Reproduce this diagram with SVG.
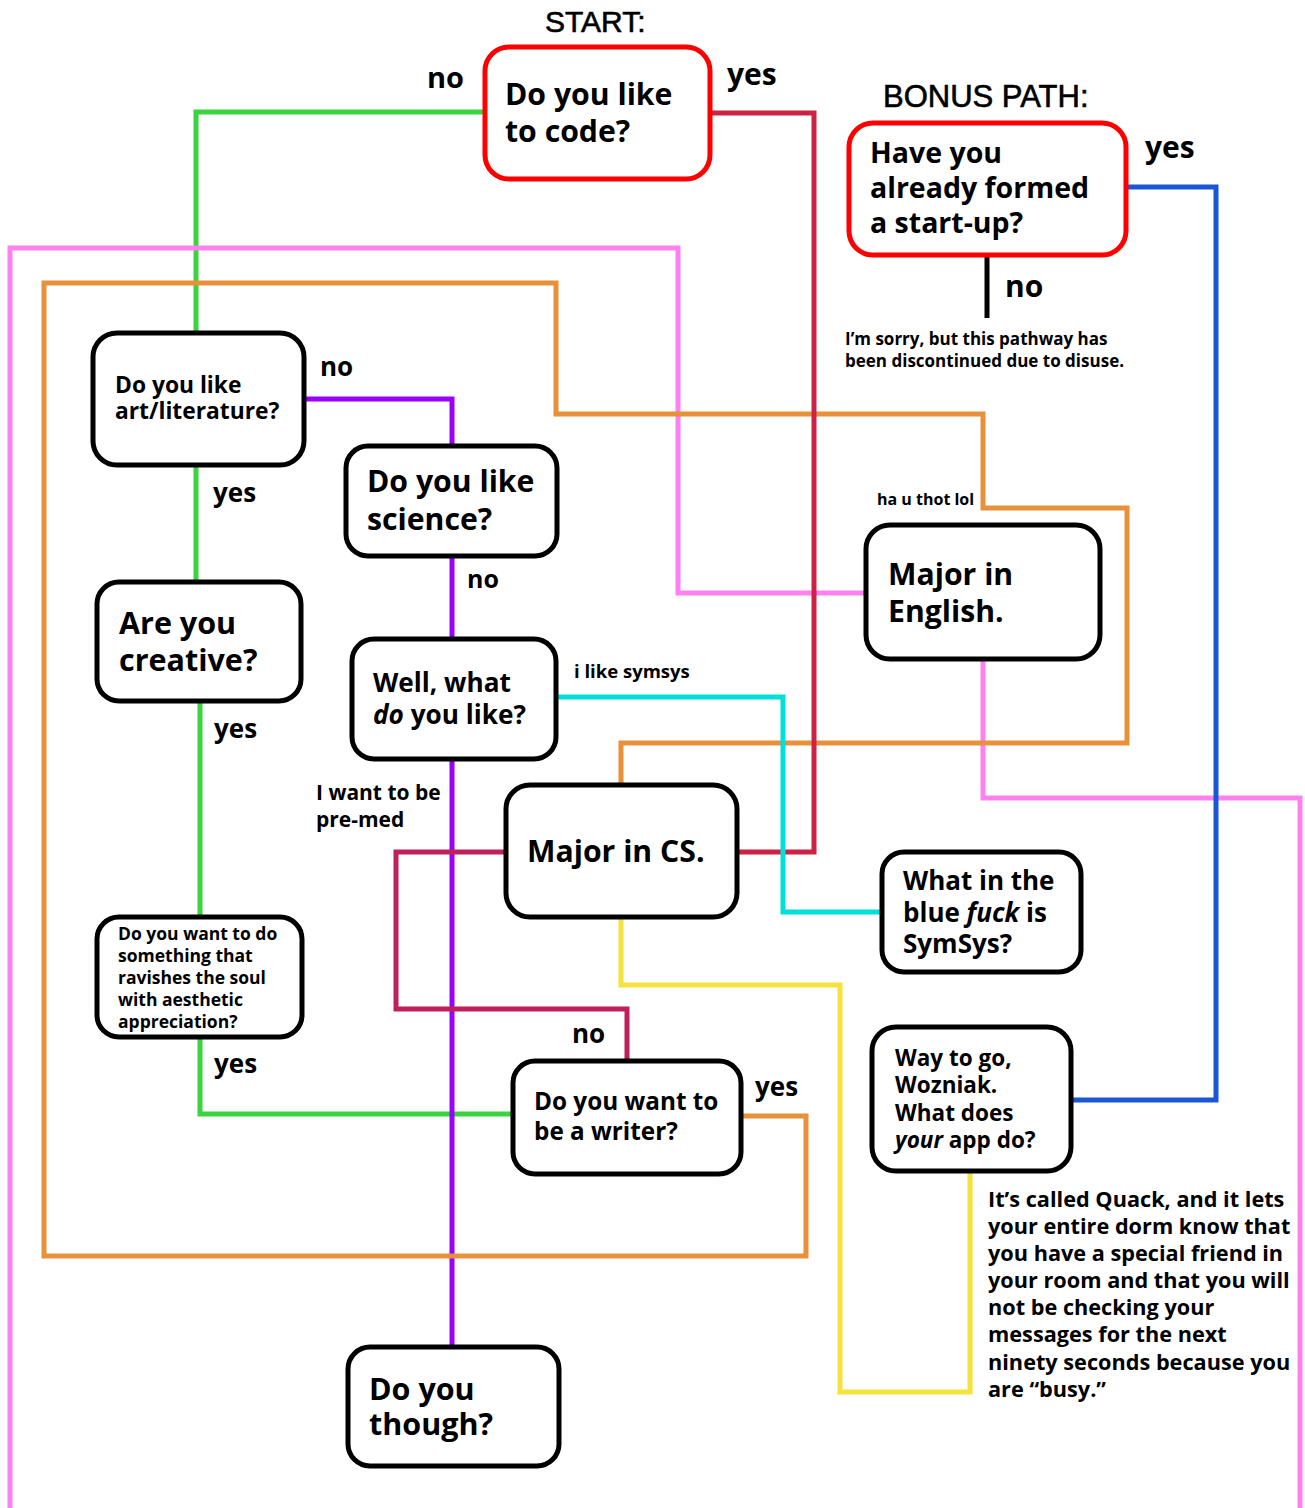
<svg xmlns="http://www.w3.org/2000/svg" width="1305" height="1508" viewBox="0 0 1305 1508">
<style>
.c{fill:none;stroke-width:5;stroke-linejoin:miter;stroke-linecap:butt}
.box{fill:#fff;stroke:#000;stroke-width:5}
.red{stroke:#ff0000}
text{font-family:"Open Sans","Noto Sans",sans-serif;font-weight:700;fill:#000}
.h{font-family:"Liberation Sans",Arial,sans-serif;font-weight:400;font-size:30px;stroke:#000;stroke-width:0.6}
.i{font-style:italic}
</style>
<rect width="1305" height="1508" fill="#fff"/>
<g id="connectors">
<path class="c" stroke="#3ad43f" d="M484,112 H196 V332 M196,466 V581 M200,703 V916 M200,1038 V1114 H512"/>
<path class="c" stroke="#9900ff" d="M306,399 H452 V445 M452,557 V638 M452,760 V1346"/>
<path class="c" stroke="#ff80f0" d="M865,593 H678 V248 H10 V1508 M983,660 V798 H1300 V1508"/>
<path class="c" stroke="#e8903a" d="M621,784 V743 H1127 V508 H983 V414 H556 V283 H44 V1256 H806 V1116 H742"/>
<path class="c" stroke="#cc2244" d="M712,113 H814 V852 H738"/>
<path class="c" stroke="#c0205a" d="M505,852 H396 V1009 H627 V1060"/>
<path class="c" stroke="#00e0d8" d="M557,697 H783 V912 H881"/>
<path class="c" stroke="#1a56d6" d="M1127,187 H1216 V1100 H1072"/>
<path class="c" stroke="#000" d="M987,256 V318"/>
<path class="c" stroke="#f5e23a" d="M621,918 V985 H840 V1392 H970 V1172"/>
</g>
<g id="labels">
<text class="h" x="545" y="32">START:</text>
<text class="h" x="883" y="107" style="font-size:31px">BONUS PATH:</text>
<text x="427" y="88" font-size="29">no</text>
<text x="727" y="85" font-size="30">yes</text>
<text x="1145" y="158" font-size="30">yes</text>
<text x="1005" y="297" font-size="30">no</text>
<text font-size="17"><tspan x="845" y="345">I’m sorry, but this pathway has</tspan><tspan x="845" y="367">been discontinued due to disuse.</tspan></text>
<text x="320" y="376" font-size="26">no</text>
<text x="213" y="502" font-size="26">yes</text>
<text x="467" y="588" font-size="25">no</text>
<text x="214" y="738" font-size="26">yes</text>
<text x="877" y="505" font-size="16">ha u thot lol</text>
<text x="574" y="678" font-size="18.5">i like symsys</text>
<text font-size="21"><tspan x="316" y="800">I want to be</tspan><tspan x="316" y="827">pre-med</tspan></text>
<text x="572" y="1043" font-size="26">no</text>
<text x="214" y="1073" font-size="26">yes</text>
<text x="755" y="1096" font-size="26">yes</text>
<text font-size="21.7"><tspan x="988" y="1207">It’s called Quack, and it lets</tspan><tspan x="988" y="1234">your entire dorm know that</tspan><tspan x="988" y="1261">you have a special friend in</tspan><tspan x="988" y="1288">your room and that you will</tspan><tspan x="988" y="1315">not be checking your</tspan><tspan x="988" y="1342">messages for the next</tspan><tspan x="988" y="1370">ninety seconds because you</tspan><tspan x="988" y="1397">are “busy.”</tspan></text>
</g>
<g id="n-code"><rect class="box red" x="485" y="47" width="225" height="132" rx="24"/>
<text font-size="30.2"><tspan x="505" y="105">Do you like</tspan><tspan x="505" y="142">to code?</tspan></text></g>
<g id="n-startup"><rect class="box red" x="849" y="123" width="277" height="132" rx="24"/>
<text font-size="28.5"><tspan x="870" y="163">Have you</tspan><tspan x="870" y="198">already formed</tspan><tspan x="870" y="233">a start-up?</tspan></text></g>
<g id="n-art"><rect class="box" x="93" y="333" width="211" height="132" rx="24"/>
<text font-size="22.8"><tspan x="115" y="393">Do you like</tspan><tspan x="115" y="419">art/literature?</tspan></text></g>
<g id="n-science"><rect class="box" x="346" y="446" width="211" height="110" rx="22"/>
<text font-size="30.2"><tspan x="367" y="492">Do you like</tspan><tspan x="367" y="530">science?</tspan></text></g>
<g id="n-creative"><rect class="box" x="97" y="582" width="204" height="119" rx="22"/>
<text font-size="30.5"><tspan x="119" y="634">Are you</tspan><tspan x="119" y="671">creative?</tspan></text></g>
<g id="n-what"><rect class="box" x="352" y="639" width="204" height="120" rx="22"/>
<text font-size="26.2"><tspan x="373" y="692">Well, what</tspan><tspan x="373" y="724"><tspan class="i">do</tspan> you like?</tspan></text></g>
<g id="n-cs"><rect class="box" x="506" y="785" width="231" height="132" rx="24"/>
<text x="527" y="862" font-size="30.2">Major in CS.</text></g>
<g id="n-english"><rect class="box" x="866" y="525" width="234" height="134" rx="24"/>
<text font-size="30.2"><tspan x="888" y="585">Major in</tspan><tspan x="888" y="622">English.</tspan></text></g>
<g id="n-symsys"><rect class="box" x="882" y="852" width="199" height="120" rx="22"/>
<text font-size="26"><tspan x="903" y="890">What in the</tspan><tspan x="903" y="922">blue <tspan class="i">fuck</tspan> is</tspan><tspan x="903" y="953">SymSys?</tspan></text></g>
<g id="n-ravish"><rect class="box" x="97" y="917" width="205" height="120" rx="22"/>
<text font-size="17.5"><tspan x="118" y="940">Do you want to do</tspan><tspan x="118" y="962">something that</tspan><tspan x="118" y="984">ravishes the soul</tspan><tspan x="118" y="1006">with aesthetic</tspan><tspan x="118" y="1028">appreciation?</tspan></text></g>
<g id="n-writer"><rect class="box" x="513" y="1061" width="228" height="113" rx="22"/>
<text font-size="24.3"><tspan x="534" y="1110">Do you want to</tspan><tspan x="534" y="1140">be a writer?</tspan></text></g>
<g id="n-though"><rect class="box" x="348" y="1347" width="211" height="119" rx="22"/>
<text font-size="30.5"><tspan x="369" y="1400">Do you</tspan><tspan x="369" y="1435">though?</tspan></text></g>
<g id="n-wozniak"><rect class="box" x="872" y="1027" width="199" height="144" rx="24"/>
<text font-size="22.5"><tspan x="895" y="1066">Way to go,</tspan><tspan x="895" y="1093">Wozniak.</tspan><tspan x="895" y="1121">What does</tspan><tspan x="895" y="1148"><tspan class="i">your</tspan> app do?</tspan></text></g>
</svg>
